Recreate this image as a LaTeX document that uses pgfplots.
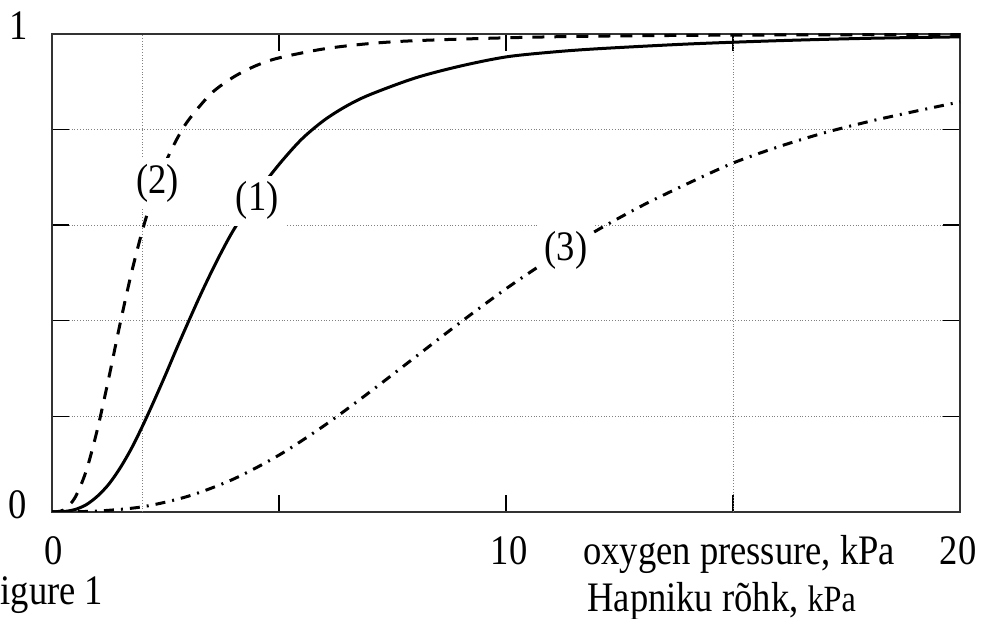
\documentclass[border=0pt]{standalone}
\usepackage{fontspec}
\setmainfont{Liberation Serif}[FakeStretch=0.87]
\usepackage{pgfplots}
\pgfplotsset{compat=1.18}

\newcommand\lbl{\fontsize{21}{24}\selectfont}

\begin{document}
\begin{tikzpicture}
\useasboundingbox (-26pt,-53.5pt) rectangle (465.5pt,256pt);
\begin{axis}[
  at={(0,0)}, anchor=south west,
  scale only axis, width=454pt, height=239pt,
  xmin=0, xmax=20, ymin=0, ymax=1,
  axis line style={line width=1pt, black!80},
  xtick={5,10,15}, xticklabels={},
  ytick={0.2,0.4,0.6,0.8}, yticklabels={},
  xtick pos=both, ytick pos=both, tick align=inside,
  major tick length=8.5pt,
  tick style={black, line width=0.7pt},
  ymajorgrids,
  extra x ticks={2,15}, extra x tick labels={},
  extra x tick style={xmajorgrids, major tick length=0pt},
  major grid style={densely dotted, gray, line width=0.5pt},
]
% (1)
\addplot[black, line width=1.5pt, smooth] coordinates {
(0,0) (0.25,0.0008) (0.5,0.005) (0.75,0.015) (1,0.033) (1.25,0.058)
(1.5,0.092) (1.75,0.133) (2,0.181) (2.25,0.233) (2.5,0.287) (2.75,0.343)
(3,0.397) (3.25,0.450) (3.5,0.500) (3.75,0.547) (4,0.590) (4.5,0.665)
(5,0.727) (5.5,0.780) (6,0.820) (6.5,0.850) (7,0.873) (8,0.908)
(9,0.933) (10,0.952) (11,0.962) (12,0.969) (14,0.979) (16,0.986)
(18,0.991) (20,0.994)
};
% (2)
\addplot[black, line width=1.5pt, smooth, dash pattern=on 6pt off 5pt] coordinates {
(0,0) (0.25,0.004) (0.5,0.029) (0.75,0.085) (1,0.173) (1.25,0.280)
(1.5,0.394) (1.75,0.500) (2,0.592) (2.25,0.669) (2.5,0.731) (2.75,0.780)
(3,0.819) (3.5,0.875) (4,0.910) (4.5,0.934) (5,0.950) (6,0.969)
(7,0.980) (8,0.986) (10,0.992) (12,0.9955) (15,0.9976) (20,0.9989)
};
% (3)
\addplot[black, line width=1.5pt, smooth, dash pattern=on 5pt off 3.5pt on 1pt off 3.5pt] coordinates {
(0,0) (1,0.002) (2,0.011) (3,0.033) (4,0.069) (5,0.119) (6,0.181)
(7,0.251) (8,0.324) (9,0.397) (10,0.467) (11,0.531) (12,0.589)
(13,0.641) (14,0.687) (15,0.730) (16,0.764) (17,0.793) (18,0.817)
(19,0.838) (20,0.858)
};
\node[font=\lbl, fill=white, inner sep=3pt] at (axis cs:2.32,0.688) {(2)};
\node[font=\lbl, fill=white, inner sep=3pt] at (axis cs:4.52,0.651) {(1)};
\node[font=\lbl, fill=white, inner sep=3pt] at (axis cs:11.32,0.548) {(3)};
\end{axis}
\node[font=\lbl] at (-16.75pt,243pt) {1};
\node[font=\lbl] at (-17pt,3.5pt) {0};
\node[font=\lbl, anchor=base] at (1pt,-26.5pt) {0};
\node[font=\lbl, anchor=base] at (228.5pt,-26.5pt) {10};
\node[font=\lbl, anchor=base] at (453pt,-26.5pt) {20};
\node[font=\lbl, anchor=base west, inner sep=0pt] at (265.5pt,-26.5pt) {oxygen pressure, kPa};
\node[font=\lbl, anchor=base west, inner sep=0pt] at (-36pt,-46.5pt) {Figure 1};
\node[font=\lbl, anchor=base west, inner sep=0pt] at (267.5pt,-50pt) {Hapniku rõhk, {\fontsize{18.5}{20}\selectfont kPa}};
\end{tikzpicture}
\end{document}
